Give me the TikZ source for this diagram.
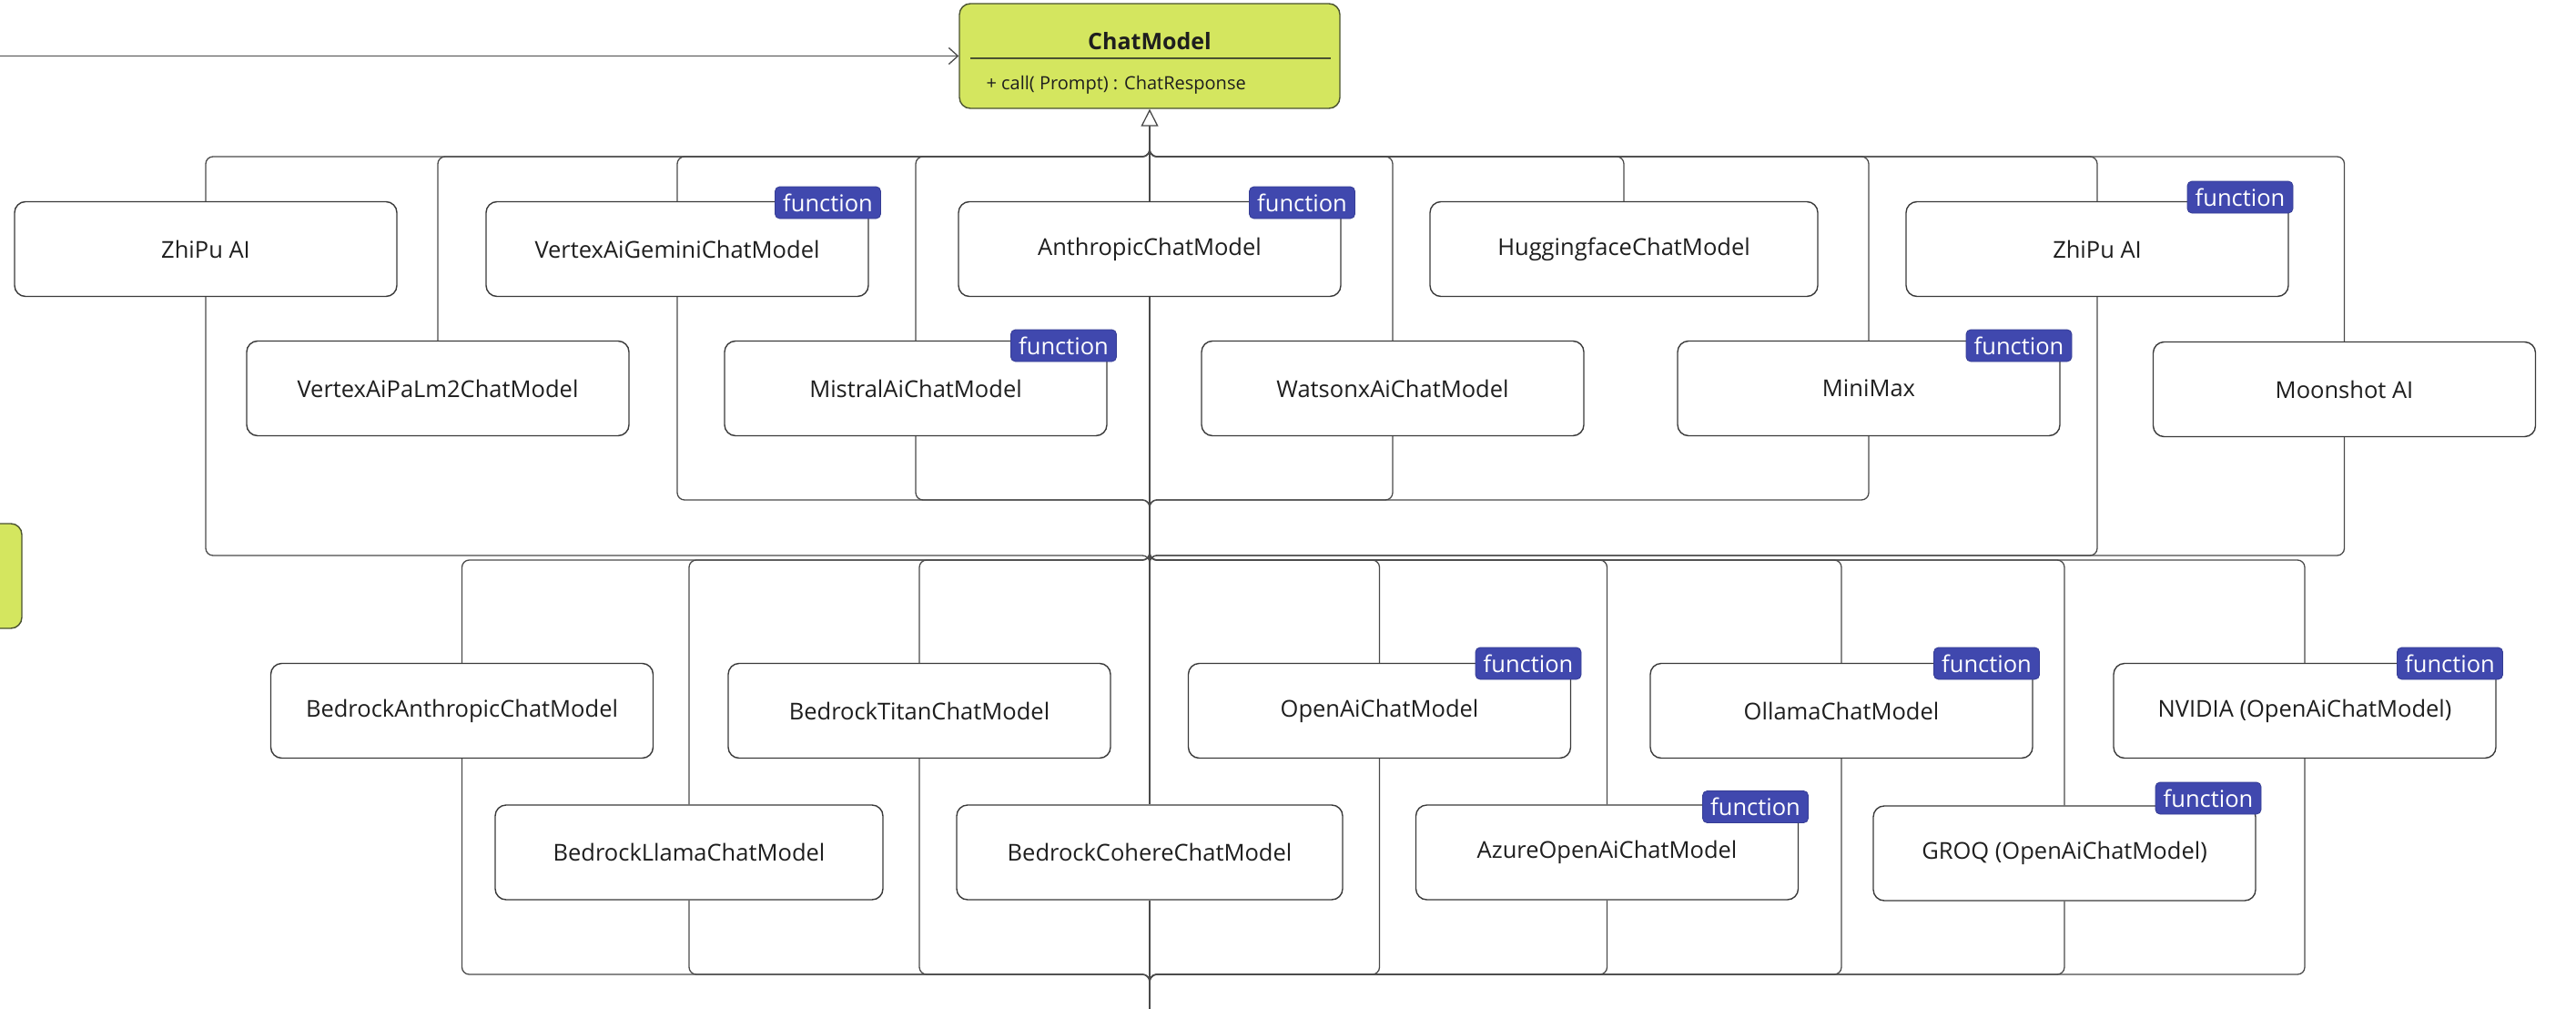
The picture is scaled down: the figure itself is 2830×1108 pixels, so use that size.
\documentclass[tikz,border=0pt]{standalone}
\usepackage{fontspec}
\setmainfont{Open Sans}
\usetikzlibrary{arrows.meta}
\definecolor{chatgreen}{HTML}{D4E65F}
\definecolor{chatedge}{HTML}{4A5230}
\definecolor{fnblue}{HTML}{4048AE}
\definecolor{txt}{HTML}{1E1E1E}
\definecolor{boxedge}{HTML}{3A3A3A}
\definecolor{wirecol}{HTML}{4A4A4A}
\begin{document}
\begin{tikzpicture}[x=1pt,y=-1pt,
  model/.style={draw=boxedge, line width=1.4pt, fill=white, rounded corners=12pt,
    minimum width=420pt, minimum height=104pt, inner sep=0pt,
    font=\fontsize{25.5}{30}\selectfont, text=txt},
  badge/.style={fill=fnblue, draw=fnblue!85!black, line width=0.8pt, rounded corners=5pt,
    minimum width=116pt, minimum height=35pt, inner sep=0pt, text=white,
    font=\fontsize{25.5}{30}\selectfont},
  wire/.style={draw=wirecol, line width=1.3pt, rounded corners=8pt},
]
\clip (0,0) rectangle (2830,1108);

% ChatModel class
\node[draw=chatedge, line width=1.4pt, fill=chatgreen, rounded corners=12pt,
      minimum width=418pt, minimum height=115pt, inner sep=0pt] (chat) at (1263,61.5) {};
\node[anchor=base, font=\bfseries\fontsize{25}{30}\selectfont, text=txt] (chattitle) at (1263,55) {ChatModel};
\draw[draw=chatedge, line width=1.5pt] (1066,64) -- (1462,64);
\node[anchor=base west, font=\fontsize{20}{24}\selectfont, text=txt] (chatmethod) at (1080,99) {+ call( Prompt) : ChatResponse};

% partial green box at the left edge
\node[draw=chatedge, line width=1.4pt, fill=chatgreen, rounded corners=12pt,
      minimum width=60pt, minimum height=115pt, inner sep=0pt] (side) at (-6,632.5) {};

% upper group
\node[model] (zL)   at (226,273.5)  {ZhiPu AI};
\node[model] (gem)  at (744,273.5)  {VertexAiGeminiChatModel};
\node[model] (anth) at (1263,273.5) {AnthropicChatModel};
\node[model, minimum width=426pt] (hug)  at (1784,273.5) {HuggingfaceChatModel};
\node[model] (zR)   at (2304,273.5) {ZhiPu AI};
\node[model] (palm) at (481,426.5)  {VertexAiPaLm2ChatModel};
\node[model] (mis)  at (1006,426.5) {MistralAiChatModel};
\node[model] (wat)  at (1530,426.5) {WatsonxAiChatModel};
\node[model] (mini) at (2053,426.5) {MiniMax};
\node[model] (moon) at (2575.5,427.5) {Moonshot AI};

% lower group
\node[model] (ban)  at (507.5,780.5) {BedrockAnthropicChatModel};
\node[model] (tit)  at (1010,780.5)  {BedrockTitanChatModel};
\node[model] (oai)  at (1515.5,780.5) {OpenAiChatModel};
\node[model] (oll)  at (2023,780.5)  {OllamaChatModel};
\node[model] (nv)   at (2532,780.5)  {NVIDIA (OpenAiChatModel)};
\node[model, minimum width=426pt] (lla)  at (757,936)  {BedrockLlamaChatModel};
\node[model, minimum width=424pt] (coh)  at (1263,936) {BedrockCohereChatModel};
\node[model] (az)   at (1765.5,936) {AzureOpenAiChatModel};
\node[model] (groq) at (2268,937)   {GROQ (OpenAiChatModel)};

% hub coordinates
\coordinate (lin)   at (0,61.5);
\coordinate (tb)    at (1263,172);
\coordinate (tbh)   at (1263,148);
\coordinate (ub1)   at (1263,549);
\coordinate (ub1h)  at (1263,575);
\coordinate (ub2)   at (1263,610);
\coordinate (ub2h)  at (1263,640);
\coordinate (lt)    at (1263,615);
\coordinate (lth)   at (1263,590);
\coordinate (lb)    at (1263,1070);
\coordinate (lbh)   at (1263,1096);
\coordinate (bot)   at (1263,1110);

% incoming arrow from the left
\draw[wire, -{Straight Barb[length=10pt,width=18pt]}] (lin) -- (chat.west);

% upper group connectors
\foreach \n in {zL,palm,gem,mis,wat,hug,mini,zR,moon}
  \draw[wire] (\n.north) |- (tb) -- (tbh);
\foreach \n in {gem,mis,wat,mini}
  \draw[wire] (\n.south) |- (ub1) -- (ub1h);
\foreach \n in {zL,zR,moon}
  \draw[wire] (\n.south) |- (ub2) -- (ub2h);

% central spine
\draw[wire, -{Triangle[length=19pt,width=19pt,fill=white]}] (anth.north) -- (chat.south);
\draw[wire] (anth.south) -- (coh.north);
\draw[wire] (coh.south) -- (bot);

% lower group connectors
\foreach \n in {ban,lla,tit,oai,az,oll,groq,nv}{
  \draw[wire] (\n.north) |- (lt) -- (lth);
  \draw[wire] (\n.south) |- (lb) -- (lbh);
}

% function badges
\node[badge] (fgem)  at (909.5,222.5)  {function};
\node[badge] (fanth) at (1430.5,222.5) {function};
\node[badge] (fmis)  at (1168.5,379.5) {function};
\node[badge] (fzR)   at (2461,216.5)   {function};
\node[badge] (fmini) at (2218,379.5)   {function};
\node[badge] (foai)  at (1679,728.5)   {function};
\node[badge] (faz)   at (1928.5,886)   {function};
\node[badge] (foll)  at (2182.5,728.5) {function};
\node[badge] (fgroq) at (2426,876.5)   {function};
\node[badge] (fnv)   at (2691.5,728.5) {function};
\end{tikzpicture}
\end{document}
